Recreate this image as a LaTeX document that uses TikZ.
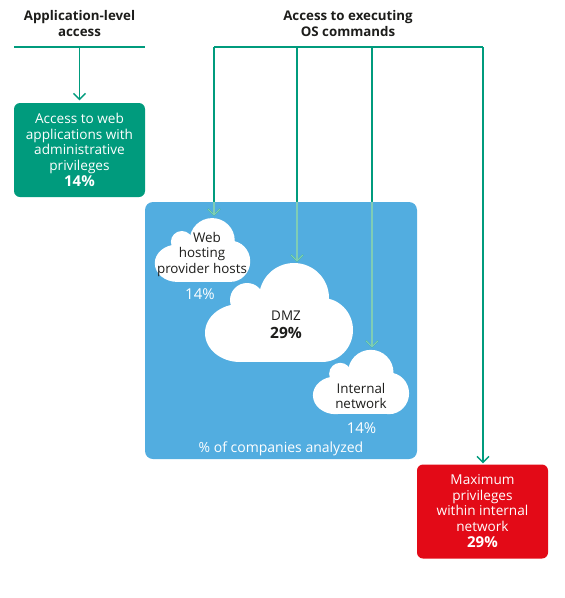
\documentclass[tikz,border=0pt]{standalone}
\usepackage{fontspec}
\setmainfont{Open Sans}
\usetikzlibrary{arrows.meta, positioning}
\definecolor{kteal}{HTML}{009B7D}
\definecolor{kmint}{HTML}{7FCDB5}
\definecolor{kblue}{HTML}{52ADE0}
\definecolor{kred}{HTML}{E30A17}
\definecolor{kink}{HTML}{1D1D1B}
\newcommand{\cloudblob}[4]{%
  \begin{scope}[shift={(#2,#3)}, scale=#4]
    \fill[white] (-39,20.5) ellipse[x radius=35, y radius=29];
    \fill[white] (43,17.5) ellipse[x radius=31, y radius=32];
    \fill[white] (15,-14.5) circle[radius=35];
    \fill[white] (-32,-12.5) circle[radius=17];
    \fill[white] (-39,-12.5) rectangle (43,49.5);
  \end{scope}
  \node[inner sep=0pt, minimum width=#4*148pt, minimum height=#4*99pt] (#1) at (#2,#3) {};}

\begin{document}
\begin{tikzpicture}[x=1pt, y=-1pt,
            bar/.style={kteal, line width=1.3pt},
            link/.style={kteal, line width=1.3pt, -{Straight Barb[length=6pt, width=12pt]}},
            box/.style={rounded corners=6pt, minimum width=131pt, minimum height=94pt, inner sep=0pt, text=white, align=center, font=\fontsize{13.6}{15.5}\selectfont},
            head/.style={align=center, text=kink, font=\bfseries\fontsize{13.3}{16}\selectfont},
            cloudtext/.style={align=center, text=kink, font=\fontsize{13.4}{15.5}\selectfont},
            pct/.style={anchor=base, text=white, font=\fontsize{15}{17}\selectfont}
        ]
            \useasboundingbox (0,0) rectangle (565,598);

            \node[head] (apphead) at (79.5,24) {Application-level\\access};
            \node[head] (oshead) at (348,24) {Access to executing\\OS commands};

            \node[box, fill=kteal] (admin) at (79.5,150) {Access to web\\applications with\\administrative\\privileges\\[1pt]{\bfseries\fontsize{15}{17}\selectfont 14\%}};
            \node[box, fill=kred] (maxpriv) at (482.5,511.5) {Maximum\\privileges\\within internal\\network\\[1pt]{\bfseries\fontsize{15}{17}\selectfont 29\%}};

            \node[fill=kblue, rounded corners=8pt, minimum width=272pt, minimum height=257pt] (area) at (281,330.5) {};

            \cloudblob{webcloud}{202.5}{250}{0.645}
            \cloudblob{dmzcloud}{279}{312.5}{1}
            \cloudblob{intcloud}{361}{382}{0.65}

            \node[cloudtext] (webtxt) at (202,254.5) {\hspace*{10pt}Web\\hosting\\provider hosts};
            \node[pct] (webpct) at (200,299) {14\%};
            \node[cloudtext, anchor=base] (dmztxt) at (286,320) {DMZ};
            \node[cloudtext, anchor=base, font=\bfseries\fontsize{15.5}{17}\selectfont] (dmzpct) at (286,338) {29\%};
            \node[cloudtext] (inttxt) at (361,396) {Internal\\network};
            \node[pct] (intpct) at (361.5,433) {14\%};
            \node[pct, font=\fontsize{14}{16}\selectfont] (note) at (281,452) {\% of companies analyzed};

            \coordinate (appL) at (14,47);
            \coordinate (appR) at (145,47);
            \coordinate (osL) at (214,47);
            \coordinate (osD) at (297,47);
            \coordinate (osI) at (372,47);
            \coordinate (osR) at (483,47);

            \draw[bar] (appL) -- (appR);
            \draw[bar] (osL) -- (osR);
            \draw[link, shorten >=2.5pt] (appL -| admin.north) -- (admin.north);
            \draw[link, shorten >=2pt] (osL) -- (osL |- webcloud.north);
            \draw[link, shorten >=1pt] (osD) -- (osD |- dmzcloud.north);
            \draw[link, shorten >=2pt] (osI) -- (osI |- intcloud.north);
            \draw[link, shorten >=1pt] (osR) -- (osR |- maxpriv.north);

            \begin{scope}
                \clip[rounded corners=8pt] (area.north west) rectangle (area.south east);
                \draw[link, kmint, shorten >=2pt] (osL) -- (osL |- webcloud.north);
                \draw[link, kmint, shorten >=1pt] (osD) -- (osD |- dmzcloud.north);
                \draw[link, kmint, shorten >=2pt] (osI) -- (osI |- intcloud.north);
            \end{scope}

        \end{tikzpicture}
\end{document}
